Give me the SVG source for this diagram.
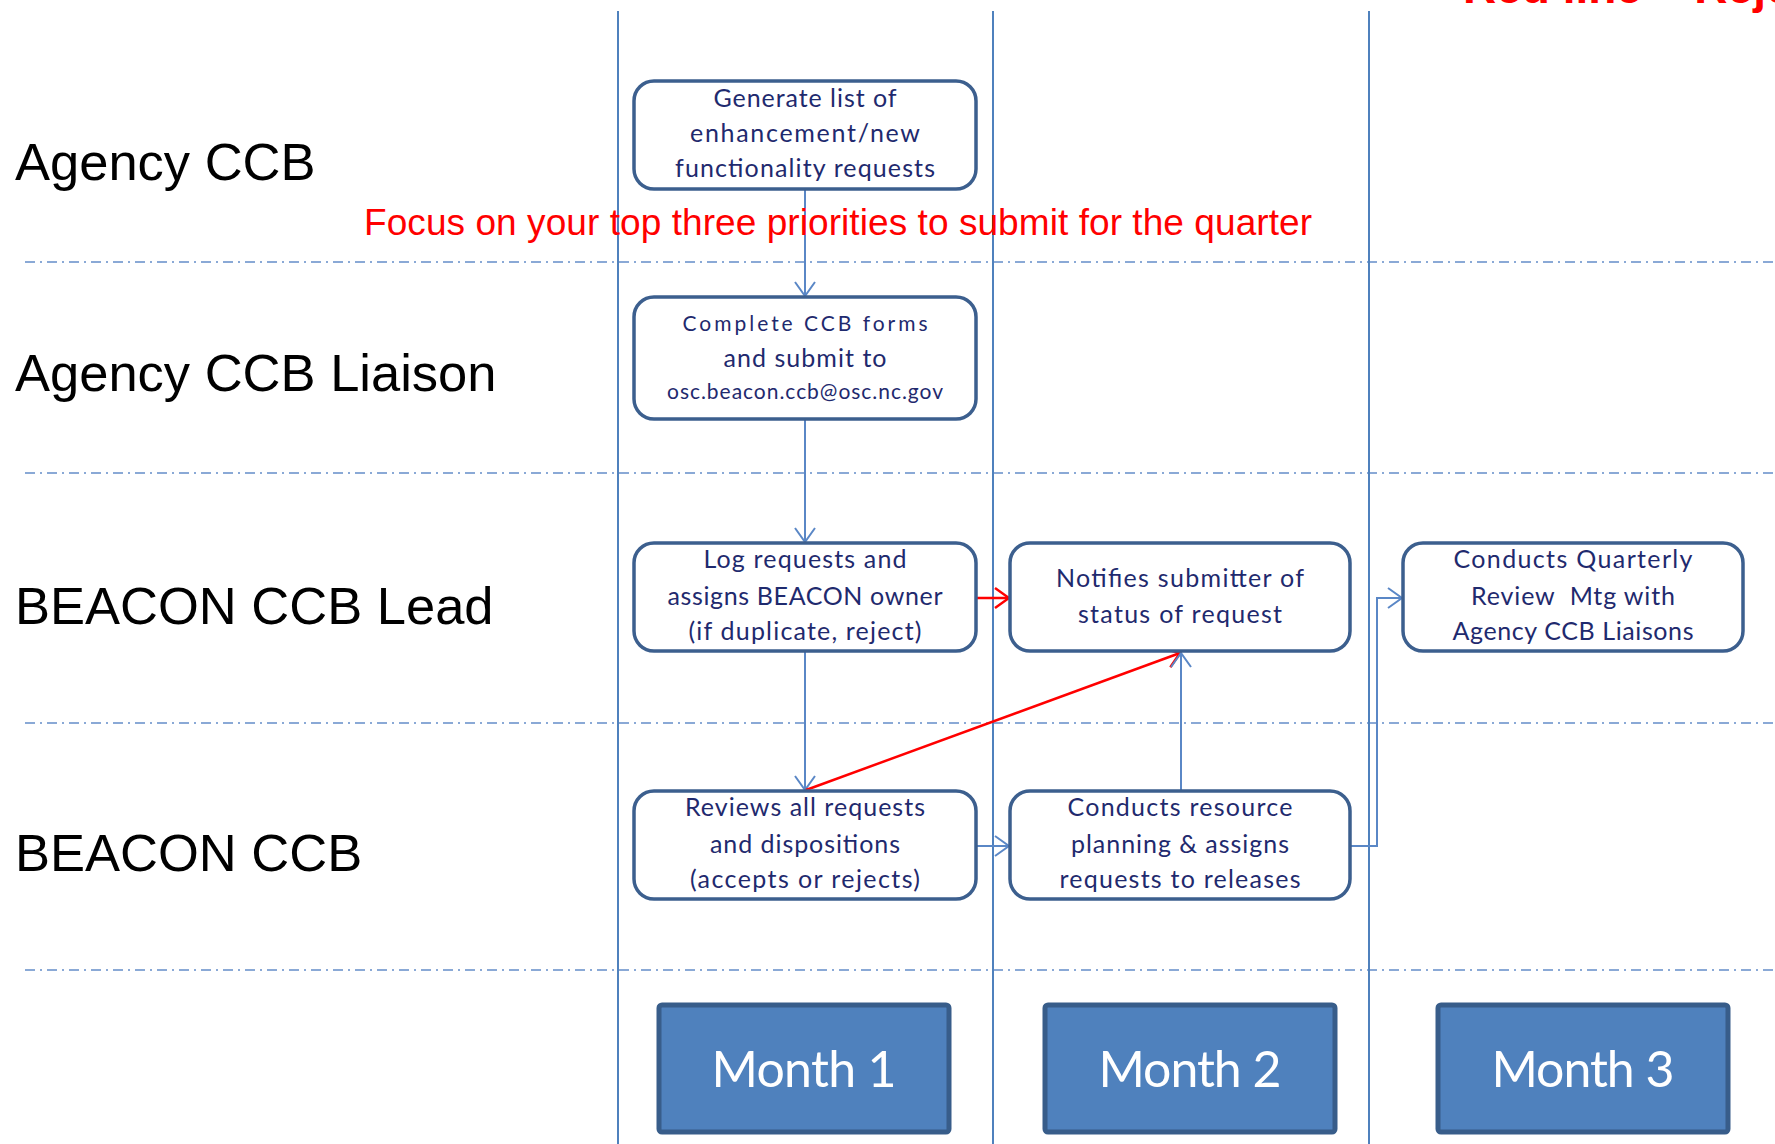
<svg xmlns="http://www.w3.org/2000/svg" width="1775" height="1144" viewBox="0 0 1775 1144">
  <style>
    .lane { font-family: "Liberation Sans", Arial, sans-serif; font-size: 52.5px; fill: #000; }
    .box { fill: #fff; stroke: #3c5f8e; stroke-width: 3.5; }
    .nt { font-family: Lato, "Open Sans", sans-serif; font-size: 25px; fill: #1f2a6e; text-anchor: middle; }
    .nts { font-family: Lato, "Open Sans", sans-serif; font-size: 21px; fill: #1f2a6e; text-anchor: middle; }
    .mbox { fill: #4f81bd; stroke: #385d8a; stroke-width: 5; }
    .mt { font-family: Lato, "Open Sans", sans-serif; font-size: 50px; fill: #fff; text-anchor: middle; }
    .col { stroke: #4f81bd; stroke-width: 2; }
    .sep { stroke: #8aa9d6; stroke-width: 2; stroke-dasharray: 10 5 2 5; }
    .conn { fill: none; stroke: #5a87c6; stroke-width: 2; }
    .rej { fill: none; stroke: #ff0000; stroke-width: 2.5; }
    .note { font-family: "Liberation Sans", Arial, sans-serif; fill: #ff0000; }
  </style>
  <defs>
    <marker id="arrowBlue" markerUnits="userSpaceOnUse" viewBox="-16 -12 18 24" refX="0" refY="0" markerWidth="18" markerHeight="24" orient="auto">
      <path d="M -14 -10 L 0 0 L -14 10" fill="none" stroke="#5a87c6" stroke-width="2"/>
    </marker>
    <marker id="arrowRed" markerUnits="userSpaceOnUse" viewBox="-16 -12 18 24" refX="0" refY="0" markerWidth="18" markerHeight="24" orient="auto">
      <path d="M -14 -10 L 0 0 L -14 10" fill="none" stroke="#ff0000" stroke-width="2.5"/>
    </marker>
  </defs>

  <rect width="1775" height="1144" fill="#fff"/>

  <!-- swimlane separators -->
  <g id="lane-separators">
    <line class="sep" x1="25" y1="262" x2="1775" y2="262"/>
    <line class="sep" x1="25" y1="473" x2="1775" y2="473"/>
    <line class="sep" x1="25" y1="723" x2="1775" y2="723"/>
    <line class="sep" x1="25" y1="970" x2="1775" y2="970"/>
  </g>

  <!-- month columns -->
  <g id="month-columns">
    <line class="col" x1="618" y1="11" x2="618" y2="1144"/>
    <line class="col" x1="993" y1="11" x2="993" y2="1144"/>
    <line class="col" x1="1369" y1="11" x2="1369" y2="1144"/>
  </g>

  <!-- lane titles -->
  <g id="lane-labels">
    <text class="lane" x="15" y="180">Agency CCB</text>
    <text class="lane" x="15" y="391">Agency CCB Liaison</text>
    <text class="lane" x="15" y="624">BEACON CCB Lead</text>
    <text class="lane" x="15" y="871">BEACON CCB</text>
  </g>

  <!-- connectors -->
  <g id="connectors">
    <path class="conn" d="M805 189 V296" marker-end="url(#arrowBlue)"/>
    <path class="conn" d="M805 419 V542" marker-end="url(#arrowBlue)"/>
    <path class="conn" d="M805 651 V790" marker-end="url(#arrowBlue)"/>
    <path class="rej" d="M976 598 H1009" marker-end="url(#arrowRed)"/>
    <path class="conn" d="M976 846 H1009" marker-end="url(#arrowBlue)"/>
    <path class="rej" d="M806 790 L1180 653" marker-end="url(#arrowRed)"/>
    <path class="conn" d="M1181 791 V653" marker-end="url(#arrowBlue)"/>
    <path class="conn" d="M1349 846 H1377 V598 H1402" marker-end="url(#arrowBlue)"/>
  </g>

  <!-- process steps -->
  <g id="node-generate-list">
    <rect class="box" x="634" y="81" width="342" height="108" rx="20"/>
    <text class="nt" x="805" y="107" textLength="183">Generate list of</text>
    <text class="nt" x="805" y="142" textLength="230">enhancement/new</text>
    <text class="nt" x="805" y="177" textLength="260">functionality requests</text>
  </g>

  <g id="node-complete-forms">
    <rect class="box" x="634" y="297" width="342" height="122" rx="20"/>
    <text class="nts" x="805" y="331" textLength="245">Complete CCB forms</text>
    <text class="nt" x="805" y="367" textLength="163">and submit to</text>
    <text class="nts" x="805" y="399" textLength="276">osc.beacon.ccb@osc.nc.gov</text>
  </g>

  <g id="node-log-requests">
    <rect class="box" x="634" y="543" width="342" height="108" rx="20"/>
    <text class="nt" x="805" y="568" textLength="203">Log requests and</text>
    <text class="nt" x="805" y="605" textLength="275">assigns BEACON owner</text>
    <text class="nt" x="805" y="640" textLength="233">(if duplicate, reject)</text>
  </g>

  <g id="node-notify-submitter">
    <rect class="box" x="1010" y="543" width="340" height="108" rx="20"/>
    <text class="nt" x="1180" y="587" textLength="248">Notifies submitter of</text>
    <text class="nt" x="1180" y="623" textLength="204">status of request</text>
  </g>

  <g id="node-quarterly-review">
    <rect class="box" x="1403" y="543" width="340" height="108" rx="20"/>
    <text class="nt" x="1573" y="568" textLength="239">Conducts Quarterly</text>
    <text class="nt" x="1573" y="605" textLength="204" xml:space="preserve">Review  Mtg with</text>
    <text class="nt" x="1573" y="640" textLength="241">Agency CCB Liaisons</text>
  </g>

  <g id="node-review-requests">
    <rect class="box" x="634" y="791" width="342" height="108" rx="20"/>
    <text class="nt" x="805" y="816" textLength="240">Reviews all requests</text>
    <text class="nt" x="805" y="853" textLength="190">and dispositions</text>
    <text class="nt" x="805" y="888" textLength="230">(accepts or rejects)</text>
  </g>

  <g id="node-resource-planning">
    <rect class="box" x="1010" y="791" width="340" height="108" rx="20"/>
    <text class="nt" x="1180" y="816" textLength="225">Conducts resource</text>
    <text class="nt" x="1180" y="853" textLength="218">planning &amp; assigns</text>
    <text class="nt" x="1180" y="888" textLength="241">requests to releases</text>
  </g>

  <!-- month headers -->
  <g id="month-1">
    <rect class="mbox" x="659" y="1005" width="290" height="127" rx="3"/>
    <text class="mt" x="804" y="1087" textLength="185">Month 1</text>
  </g>
  <g id="month-2">
    <rect class="mbox" x="1045" y="1005" width="290" height="127" rx="3"/>
    <text class="mt" x="1190" y="1087" textLength="183">Month 2</text>
  </g>
  <g id="month-3">
    <rect class="mbox" x="1438" y="1005" width="290" height="127" rx="3"/>
    <text class="mt" x="1583" y="1087" textLength="183">Month 3</text>
  </g>

  <!-- annotations -->
  <g id="annotations">
    <text class="note" x="364" y="235" font-size="37" textLength="948">Focus on your top three priorities to submit for the quarter</text>
    <text class="note" x="1463" y="3" font-size="46" font-weight="bold">Red line = Rejected</text>
  </g>
</svg>
